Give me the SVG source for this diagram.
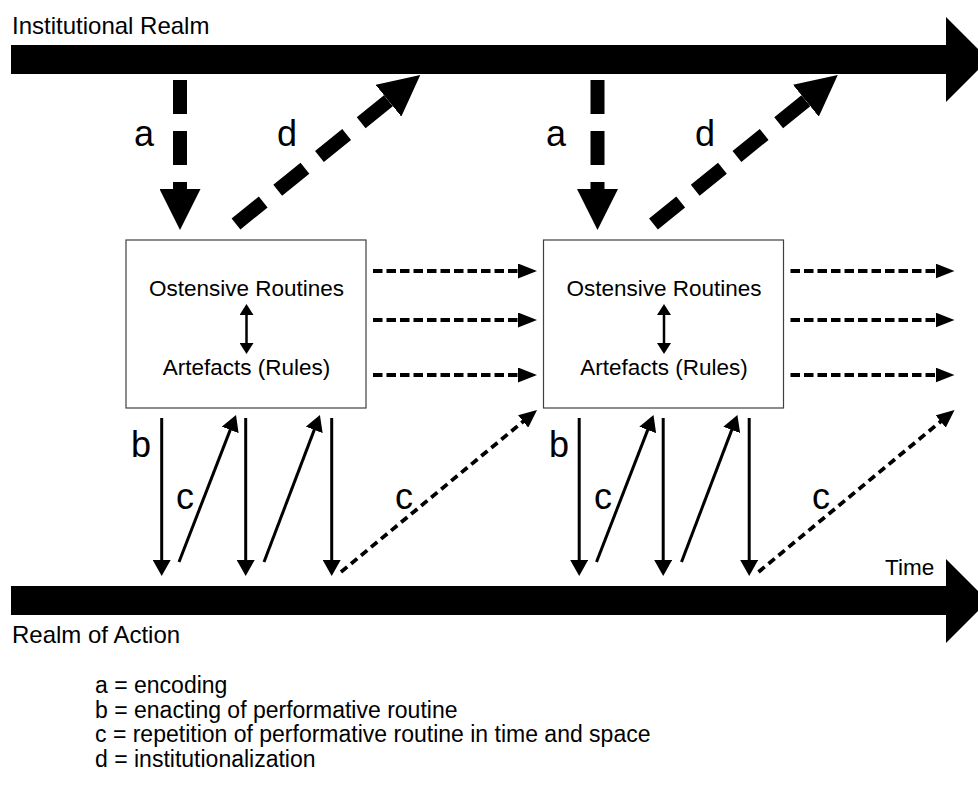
<svg xmlns="http://www.w3.org/2000/svg" width="978" height="787" viewBox="0 0 978 787">
  <style>
    text { font-family: "Liberation Sans", Arial, sans-serif; fill: #000; }
    .title { font-size: 24px; }
    .node-text { font-size: 22.5px; text-anchor: middle; }
    .letter { font-size: 36px; }
    .legend { font-size: 23px; }
    .box { fill: #fff; stroke: #404040; stroke-width: 1.2; }
    .bigdash { stroke: #000; stroke-width: 14; fill: none; stroke-dasharray: 34 17; marker-end: url(#mBig); }
    .solid { stroke: #000; stroke-width: 3; fill: none; marker-end: url(#mThin); }
    .hdash { stroke: #000; stroke-width: 4; fill: none; stroke-dasharray: 9.5 4; marker-end: url(#mH); }
    .ddash { stroke: #000; stroke-width: 3.8; fill: none; stroke-dasharray: 8 5; marker-end: url(#mD); }
    .bar { fill: #000; }
  </style>
  <defs>
    <marker id="mBig" markerUnits="userSpaceOnUse" viewBox="0 0 41 41" refX="0" refY="20.5" markerWidth="41" markerHeight="41" orient="auto">
      <path d="M0,0 L41,20.5 L0,41 z" fill="#000" stroke="none"/>
    </marker>
    <marker id="mThin" markerUnits="userSpaceOnUse" viewBox="0 0 16 18" refX="3" refY="9" markerWidth="16" markerHeight="18" orient="auto">
      <path d="M0,0 L16,9 L0,18 z" fill="#000" stroke="none"/>
    </marker>
    <marker id="mH" markerUnits="userSpaceOnUse" viewBox="0 0 19 15" refX="2" refY="7.5" markerWidth="19" markerHeight="15" orient="auto">
      <path d="M0,0 L19,7.5 L0,15 z" fill="#000" stroke="none"/>
    </marker>
    <marker id="mD" markerUnits="userSpaceOnUse" viewBox="0 0 18 16" refX="2" refY="8" markerWidth="18" markerHeight="16" orient="auto">
      <path d="M0,0 L18,8 L0,16 z" fill="#000" stroke="none"/>
    </marker>
    <marker id="mSmall" markerUnits="userSpaceOnUse" viewBox="0 0 11 14" refX="1" refY="7" markerWidth="11" markerHeight="14" orient="auto-start-reverse">
      <path d="M0,0 L11,7 L0,14 z" fill="#000" stroke="none"/>
    </marker>
  </defs>

  <rect width="978" height="787" fill="#fff"/>

  <!-- Institutional realm bar -->
  <g id="institutional-realm">
    <text class="title" x="12" y="34">Institutional Realm</text>
    <rect class="bar" x="11" y="45" width="936" height="29"/>
    <polygon class="bar" points="946,17 988.5,59.5 946,102"/>
  </g>

  <!-- Realm of action / time bar -->
  <g id="realm-of-action">
    <rect class="bar" x="11" y="586" width="936" height="29"/>
    <polygon class="bar" points="946,559 988,601 946,643"/>
    <text class="title" x="885" y="575" style="font-size:22.5px">Time</text>
    <text class="title" x="12" y="643">Realm of Action</text>
  </g>

  <!-- Routine boxes -->
  <g id="routine-1">
    <rect class="box" x="126" y="240" width="240" height="168"/>
    <text class="node-text" x="246.5" y="296">Ostensive Routines</text>
    <text class="node-text" x="246.5" y="375">Artefacts (Rules)</text>
    <line x1="246.5" y1="314" x2="246.5" y2="344" stroke="#000" stroke-width="2.5" marker-start="url(#mSmall)" marker-end="url(#mSmall)"/>
  </g>
  <g id="routine-2">
    <rect class="box" x="543.5" y="240" width="240" height="168"/>
    <text class="node-text" x="664" y="296">Ostensive Routines</text>
    <text class="node-text" x="664" y="375">Artefacts (Rules)</text>
    <line x1="664" y1="314" x2="664" y2="344" stroke="#000" stroke-width="2.5" marker-start="url(#mSmall)" marker-end="url(#mSmall)"/>
  </g>

  <!-- Connectors -->
  <g id="connectors">
    <g id="stage-1">
      <line class="bigdash" x1="180" y1="80" x2="180" y2="189"/>
      <line class="bigdash" x1="236" y1="224" x2="388.4" y2="100.7" style="stroke-dasharray:35 18.67"/>
      <line class="hdash" x1="373" y1="271" x2="520" y2="271"/>
      <line class="hdash" x1="373" y1="320" x2="520" y2="320"/>
      <line class="hdash" x1="373" y1="375" x2="520" y2="375"/>
      <line class="solid" x1="161.7" y1="418" x2="161.7" y2="563"/>
      <line class="solid" x1="179" y1="562" x2="231.3" y2="427.1"/>
      <line class="solid" x1="245.7" y1="418" x2="245.7" y2="563"/>
      <line class="solid" x1="264" y1="562" x2="315.3" y2="427.1"/>
      <line class="solid" x1="331.7" y1="418" x2="331.7" y2="563"/>
      <line class="ddash" x1="341" y1="572" x2="524.7" y2="420.2"/>
    </g>
    <g id="stage-2" transform="translate(417.5,0)">
      <line class="bigdash" x1="180" y1="80" x2="180" y2="189"/>
      <line class="bigdash" x1="236" y1="224" x2="388.4" y2="100.7" style="stroke-dasharray:35 18.67"/>
      <line class="hdash" x1="373" y1="271" x2="520" y2="271"/>
      <line class="hdash" x1="373" y1="320" x2="520" y2="320"/>
      <line class="hdash" x1="373" y1="375" x2="520" y2="375"/>
      <line class="solid" x1="161.7" y1="418" x2="161.7" y2="563"/>
      <line class="solid" x1="179" y1="562" x2="231.3" y2="427.1"/>
      <line class="solid" x1="245.7" y1="418" x2="245.7" y2="563"/>
      <line class="solid" x1="264" y1="562" x2="315.3" y2="427.1"/>
      <line class="solid" x1="331.7" y1="418" x2="331.7" y2="563"/>
      <line class="ddash" x1="341" y1="572" x2="524.7" y2="420.2"/>
    </g>
  </g>

  <!-- Connector labels -->
  <g id="labels">
    <text class="letter" x="134" y="146">a</text>
    <text class="letter" x="277" y="146">d</text>
    <text class="letter" x="546" y="146">a</text>
    <text class="letter" x="695" y="146">d</text>
    <text class="letter" x="131" y="457">b</text>
    <text class="letter" x="176" y="509">c</text>
    <text class="letter" x="395" y="509">c</text>
    <text class="letter" x="549" y="457">b</text>
    <text class="letter" x="594" y="509">c</text>
    <text class="letter" x="812" y="509">c</text>
  </g>

  <!-- Legend -->
  <g id="legend">
    <text class="legend" x="95" y="693">a = encoding</text>
    <text class="legend" x="95" y="717.5">b = enacting of performative routine</text>
    <text class="legend" x="95" y="742">c = repetition of performative routine in time and space</text>
    <text class="legend" x="95" y="766.5">d = institutionalization</text>
  </g>
</svg>
